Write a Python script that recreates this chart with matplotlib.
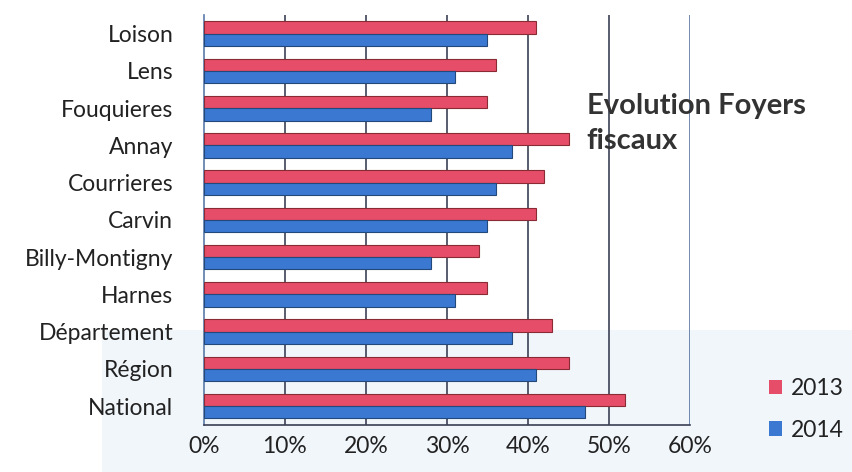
import matplotlib
matplotlib.use("Agg")
import matplotlib.pyplot as plt
from matplotlib.patches import Patch, Rectangle
import numpy as np

categories = ["Loison", "Lens", "Fouquieres", "Annay", "Courrieres", "Carvin",
              "Billy-Montigny", "Harnes", "Département", "Région", "National"]
values_2013 = [41, 36, 35, 45, 42, 41, 34, 35, 43, 45, 52]
values_2014 = [35, 31, 28, 38, 36, 35, 28, 31, 38, 41, 47]
xticks = [0, 10, 20, 30, 40, 50, 60]
xtick_labels = ["0%", "10%", "20%", "30%", "40%", "50%", "60%"]
title = "Evolution Foyers\nfiscaux"

plt.rcParams['font.family'] = ['Lato', 'DejaVu Sans']

fig = plt.figure(figsize=(8.53, 4.72), dpi=100)
bg = Rectangle((0.12, 0.0), 0.88, 0.30, transform=fig.transFigure,
               facecolor='#f1f6fb', edgecolor='none', zorder=-10)
fig.add_artist(bg)
ax = fig.add_axes([0.239, 0.1, 0.57, 0.868])
ax.set_facecolor('none')

y = np.arange(len(categories))
h = 0.33
red = '#e64d68'
blue = '#3b78d2'
ax.barh(y - h / 2, values_2013, height=h, color=red, edgecolor='#8a2a35', linewidth=0.8, zorder=3)
ax.barh(y + h / 2, values_2014, height=h, color=blue, edgecolor='#23487a', linewidth=0.8, zorder=3)

ax.set_ylim(len(categories) - 0.5, -0.5)
ax.set_xlim(0, 60)
ax.set_yticks(y)
ax.set_yticklabels(categories, fontsize=16.5, color='#222222')
ax.set_xticks(xticks)
ax.set_xticklabels(xtick_labels, fontsize=16.5, color='#222222')
ax.tick_params(axis='y', length=0, pad=22)
ax.tick_params(axis='x', length=0, pad=8)

for x in xticks[1:-1]:
    ax.axvline(x, color='#2b3148', linewidth=1.1, zorder=1)
ax.axvline(60, color='#4a6a9a', linewidth=1.1, zorder=1)

for s in ['top', 'right']:
    ax.spines[s].set_visible(False)
ax.spines['left'].set_color('#5a7aa8')
ax.spines['bottom'].set_color('#3a3f55')
ax.spines['left'].set_linewidth(1.2)
ax.spines['bottom'].set_linewidth(1.2)

fig.text(0.688, 0.738, title, fontsize=21, fontweight='bold', color='#333333',
         va='center', ha='left', linespacing=1.4)

handles = [Patch(facecolor=red, edgecolor='none', label='2013'),
           Patch(facecolor=blue, edgecolor='none', label='2014')]
fig.legend(handles=handles, loc='center left', bbox_to_anchor=(0.877, 0.133),
           frameon=False, fontsize=16.5, handlelength=0.6, handleheight=0.6,
           handletextpad=0.35, labelspacing=0.9, labelcolor='#222222')

fig.savefig("out.png", dpi=100)
